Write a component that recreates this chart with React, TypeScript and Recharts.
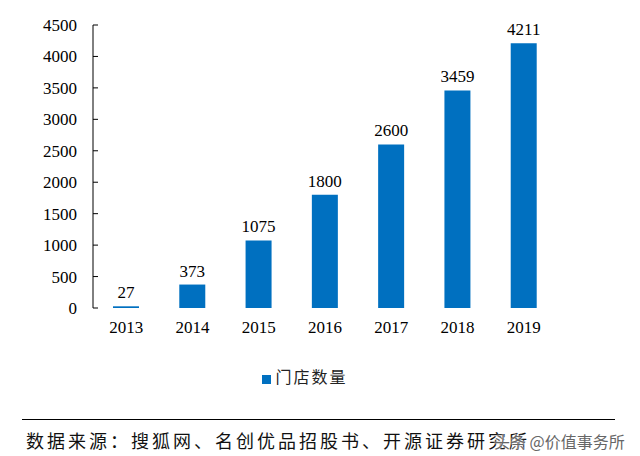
import React from "react"
import { BarChart, Bar, XAxis, YAxis, LabelList, Legend } from "recharts"

const years = ["2013", "2014", "2015", "2016", "2017", "2018", "2019"]
const storeCounts = [27, 373, 1075, 1800, 2600, 3459, 4211]
const yTicks = [0, 500, 1000, 1500, 2000, 2500, 3000, 3500, 4000, 4500]
const boundaryTicks = [0, 1, 2, 3, 4, 5, 6, 7]
const seriesName = "门店数量"
const sourceText = "数据来源：搜狐网、名创优品招股书、开源证券研究所"

const data = years.map((year, i) => ({ year, count: storeCounts[i] }))

const serif = '"Liberation Serif", "Times New Roman", serif'
const cjk = '"Noto Sans CJK SC", sans-serif'

export default function App() {
  return (
    <div style={{ position: "absolute", left: 0, top: 0, width: 640, height: 456, background: "#fff" }}>
      <BarChart
        width={640}
        height={400}
        data={data}
        margin={{ top: 25, right: 83, bottom: 62, left: 0 }}
      >
        <XAxis
          xAxisId="bounds"
          type="number"
          domain={[0, 7]}
          ticks={boundaryTicks}
          allowDataOverflow
          height={0}
          tick={false}
          tickSize={-5}
          stroke="#000"
          axisLine={{ stroke: "#000" }}
          tickLine={{ stroke: "#000" }}
        />
        <XAxis
          dataKey="year"
          height={30}
          axisLine={false}
          tickLine={false}
          tickSize={0}
          tickMargin={13}
          tick={{ fill: "#000", fontSize: 17, fontFamily: serif }}
          interval={0}
        />
        <YAxis
          width={93}
          domain={[0, 4500]}
          ticks={yTicks}
          interval={0}
          tickSize={-5}
          tickMargin={21}
          axisLine={{ stroke: "#000" }}
          tickLine={{ stroke: "#000" }}
          tick={{ fill: "#000", fontSize: 17, fontFamily: serif }}
        />
        <Legend
          verticalAlign="middle"
          align="center"
          iconType="square"
          iconSize={9}
          wrapperStyle={{ top: 364, left: 0, width: 620 }}
          formatter={(value) => (
            <span style={{ color: "#222", fontFamily: cjk, fontSize: 16, letterSpacing: 2 }}>{value}</span>
          )}
        />
        <Bar dataKey="count" name={seriesName} fill="#0070C0" barSize={26} isAnimationActive={false}>
          <LabelList
            dataKey="count"
            position="top"
            offset={8}
            style={{ fill: "#000", fontSize: 17, fontFamily: serif }}
          />
        </Bar>
      </BarChart>
      <div
        style={{
          position: "absolute",
          left: 22,
          top: 419,
          width: 593,
          height: 0,
          borderTop: "1px solid #000",
        }}
      />
      <div
        style={{
          position: "absolute",
          left: 26,
          top: 428,
          fontFamily: cjk,
          fontSize: 18,
          letterSpacing: 3,
          color: "#111",
          whiteSpace: "nowrap",
          lineHeight: "24px",
        }}
      >
        {sourceText}
      </div>
      <div
        style={{
          position: "absolute",
          left: 494,
          top: 430,
          fontFamily: cjk,
          fontSize: 16,
          color: "#666",
          whiteSpace: "nowrap",
          lineHeight: "22px",
          textShadow: "0 0 2px #fff, 0 0 2px #fff",
        }}
      >
        头条 @价值事务所
      </div>
    </div>
  )
}
